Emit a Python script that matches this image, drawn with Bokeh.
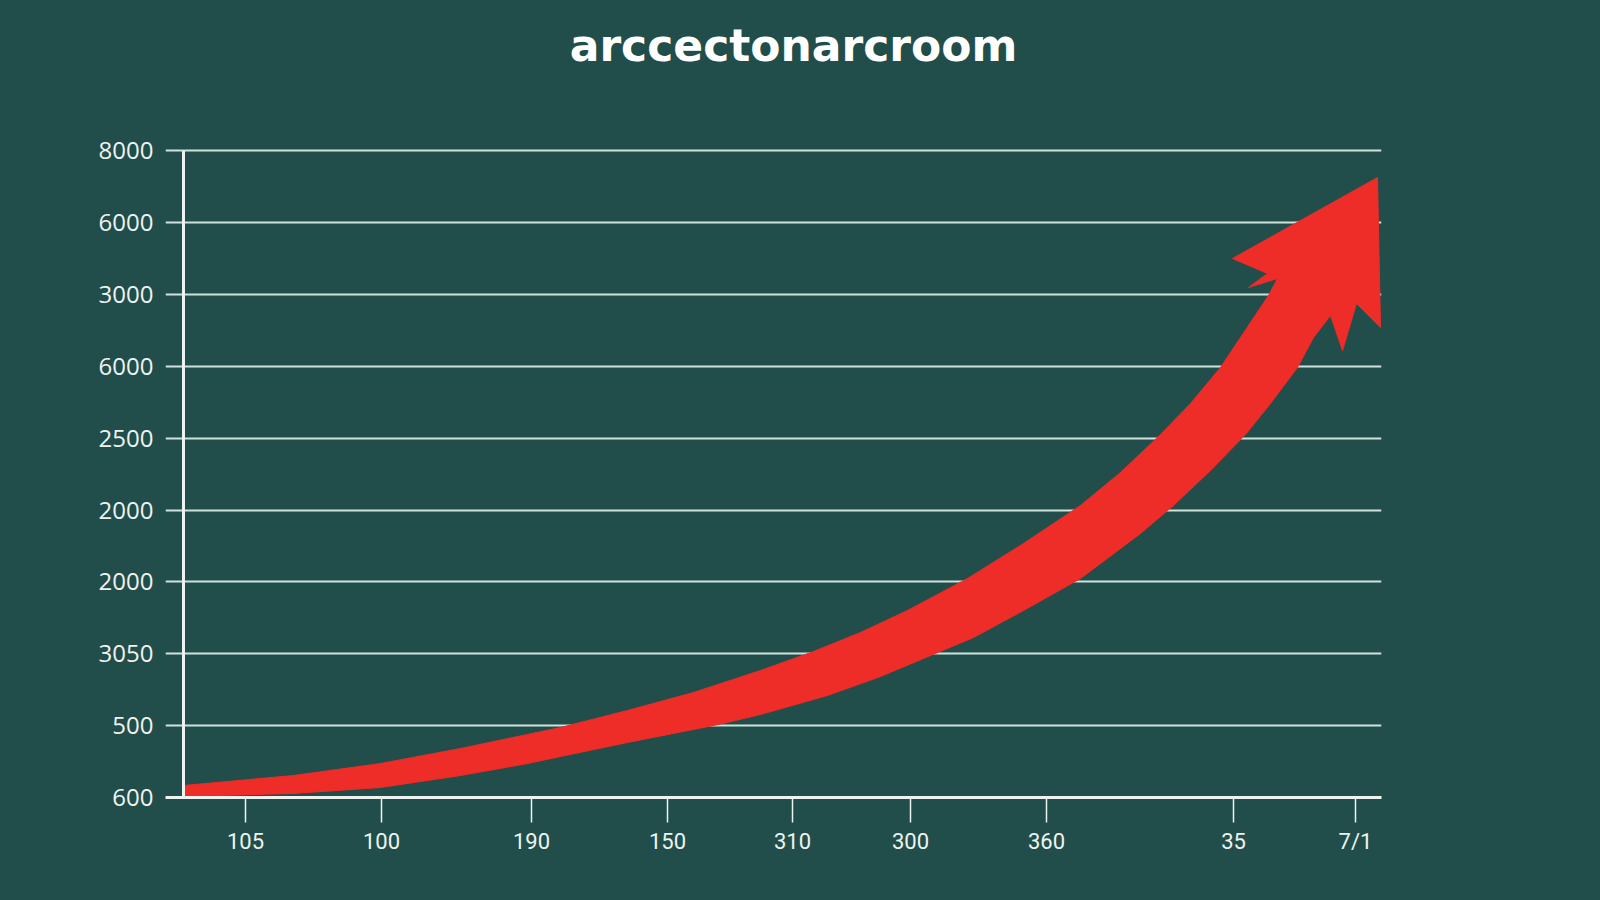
from bokeh.plotting import figure
from bokeh.models import Range1d, FixedTicker
from bokeh.core.properties import value
from bokeh.embed import file_html
from bokeh.resources import INLINE

# values
title_text = 'arccectonarcroom'

y_tick_labels = ['600', '500', '3050', '2000', '2000', '2500', '6000', '3000', '6000', '8000']
y_ticks = list(range(len(y_tick_labels)))

x_tick_labels = ['105', '100', '190', '150', '310', '300', '360', '35', '7/1']
x_ticks = [8.0, 21.6, 36.6, 50.2, 62.7, 74.5, 88.1, 106.8, 119.0]

# upper edge of the red band, left to right
upper_x = [1.8, 12.8, 21.5, 29.5, 36.2, 39.5, 46.2, 52.8, 59.5, 64.8, 69.5, 74.2, 80.2,
           85.8, 91.5, 95.5, 99.5, 102.5, 105.5, 107.5, 110.3, 111.2]
upper_y = [0.167, 0.306, 0.473, 0.682, 0.877, 0.974, 1.211, 1.462, 1.768, 2.032, 2.297, 2.603, 3.048,
           3.536, 4.065, 4.524, 5.053, 5.484, 5.986, 6.403, 6.988, 7.224]

# arrow head, from the upper junction round towards the lower junction
head_x = [108.3, 110.2, 106.7, 121.2, 121.5, 119.1, 117.7]
head_y = [7.099, 7.294, 7.503, 8.630, 6.542, 6.876, 6.222]

# lower edge of the red band, left to right
lower_x = [1.8, 12.8, 21.5, 29.5, 36.2, 39.5, 46.2, 55.3, 59.5, 66.2, 71.5, 80.8, 85.8,
           91.5, 97.5, 100.8, 104.5, 108.0, 110.5, 113.2, 114.8, 116.5]
lower_y = [0.014, 0.056, 0.139, 0.306, 0.473, 0.571, 0.766, 1.016, 1.155, 1.420, 1.684, 2.227, 2.603,
           3.048, 3.675, 4.065, 4.552, 5.053, 5.484, 5.986, 6.403, 6.709]

bg = '#214e4a'
light = '#eef3f1'
red = '#ee2c28'

# the frame reaches the top of the canvas so the heading can sit inside it
p = figure(width=1600, height=900, output_backend='svg', toolbar_location=None,
           x_range=Range1d(0, 121.6), y_range=Range1d(0, 11.094),
           min_border_left=165, min_border_right=219, min_border_top=0, min_border_bottom=103,
           background_fill_color=bg, border_fill_color=bg, outline_line_color=None)

p.text(x=[62.8], y=[10.47], text=[title_text], text_align='center', text_baseline='alphabetic',
       text_font=value('DejaVu Sans'), text_font_style='bold', text_font_size='44px',
       text_color='#ffffff')

# arrow as one outline: upper edge, head, lower edge back
outline_x = upper_x + head_x + lower_x[::-1]
outline_y = upper_y + head_y + lower_y[::-1]
p.patch(outline_x, outline_y, fill_color=red, line_color=red, line_width=1)

# y axis line sits a little inside the frame, up to the top grid line
p.segment(x0=[1.8], y0=[y_ticks[0]], x1=[1.8], y1=[y_ticks[-1]], line_color=light, line_width=3)

p.xgrid.visible = False
p.ygrid.ticker = FixedTicker(ticks=y_ticks)
p.ygrid.grid_line_color = '#cfe2de'
p.ygrid.grid_line_width = 2

p.yaxis.ticker = FixedTicker(ticks=y_ticks)
p.yaxis.major_label_overrides = {t: l for t, l in zip(y_ticks, y_tick_labels)}
p.yaxis.axis_line_color = None
p.yaxis.major_tick_line_color = None
p.yaxis.minor_tick_line_color = None
p.yaxis.major_tick_out = 0
p.yaxis.major_label_standoff = 12
p.yaxis.major_label_text_font = 'Open Sans'
p.yaxis.major_label_text_font_size = '24px'
p.yaxis.major_label_text_color = light

p.xaxis.ticker = FixedTicker(ticks=x_ticks)
p.xaxis.major_label_overrides = {t: l for t, l in zip(x_ticks, x_tick_labels)}
p.xaxis.axis_line_color = light
p.xaxis.axis_line_width = 3
p.xaxis.major_tick_line_color = light
p.xaxis.major_tick_line_width = 1.5
p.xaxis.major_tick_in = 0
p.xaxis.major_tick_out = 25
p.xaxis.minor_tick_line_color = None
p.xaxis.major_label_standoff = 6
p.xaxis.major_label_text_font = 'Roboto'
p.xaxis.major_label_text_font_size = '22px'
p.xaxis.major_label_text_color = light

html = file_html(p, INLINE)
html = html.replace('</head>', '<style>html, body { background-color: %s; }</style>\n</head>' % bg, 1)
open('out.html', 'w').write(html)
